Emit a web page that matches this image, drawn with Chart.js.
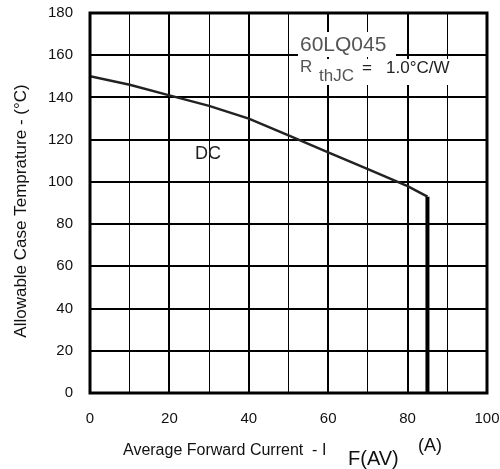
<!DOCTYPE html>
<html>
<head>
<meta charset="utf-8">
<script src="https://cdn.jsdelivr.net/npm/chart.js@4/dist/chart.umd.min.js"></script>
<style>
  html, body { margin: 0; padding: 0; background: #fff; }
  #wrap { width: 500px; height: 469px; }
</style>
</head>
<body>
<div id="wrap"><canvas id="derating"></canvas></div>
<script>
// data
const currentA = [0, 10, 20, 30, 40, 50, 60, 70, 80, 85, 85];
const caseTempC = [150, 146, 141, 136, 130, 122, 114, 106, 98, 93, 0];
const xTickLabels = ['0', '20', '40', '60', '80', '100'];
const yTickLabels = ['0', '20', '40', '60', '80', '100', '120', '140', '160', '180'];

const FONT = '"Liberation Sans", Arial, sans-serif';

const points = currentA.map((x, i) => ({ x: x, y: caseTempC[i] }));

// frame, part label and axis titles (with subscripts)
const decorations = {
  id: 'decorations',
  afterDatasetsDraw(chart) {
    const { ctx, chartArea: a } = chart;
    ctx.save();
    ctx.strokeStyle = '#000';
    ctx.lineWidth = 3;
    ctx.strokeRect(a.left, a.top, a.right - a.left, a.bottom - a.top);

    // part number box
    ctx.fillStyle = '#fff';
    ctx.fillRect(298, 32, 98, 25);
    ctx.fillRect(298, 59, 160, 26);
    ctx.fillStyle = '#555';
    ctx.textBaseline = 'middle';
    ctx.font = '21px ' + FONT;
    ctx.fillText('60LQ045', 300, 45);
    ctx.font = '17px ' + FONT;
    ctx.fillText('R', 300, 67);
    ctx.fillText('thJC', 319, 76);
    ctx.fillStyle = '#222';
    ctx.fillText('=', 362, 68);
    ctx.fillText('1.0°C/W', 386, 68);

    ctx.font = '18px ' + FONT;
    ctx.fillStyle = '#222';
    ctx.fillText('DC', 195, 154);

    // x title
    ctx.font = '16px ' + FONT;
    ctx.fillStyle = '#111';
    ctx.fillText('Average Forward Current  - I', 123, 451);
    ctx.font = '20px ' + FONT;
    ctx.fillText('F(AV)', 348, 459);
    ctx.font = '18px ' + FONT;
    ctx.fillText('(A)', 418, 446);

    // y title
    ctx.font = '17px ' + FONT;
    ctx.translate(21, 211);
    ctx.rotate(-Math.PI / 2);
    ctx.textAlign = 'center';
    ctx.fillText('Allowable Case Temprature - (°C)', 0, 0);
    ctx.restore();
  }
};

new Chart(document.getElementById('derating'), {
  type: 'scatter',
  data: {
    datasets: [
      {
        label: 'DC',
        data: points,
        showLine: true,
        borderColor: '#222',
        borderWidth: 2.5,
        pointRadius: 0,
        tension: 0,
        fill: false,
        segment: {
          borderWidth: (c) => (c.p0DataIndex === currentA.length - 2 ? 4 : 2.5),
          borderColor: (c) => (c.p0DataIndex === currentA.length - 2 ? '#000' : '#222'),
        },
      },
    ],
  },
  options: {
    responsive: true,
    maintainAspectRatio: false,
    animation: false,
    layout: { padding: { top: 13, right: 13, left: 0, bottom: 0 } },
    plugins: {
      legend: { display: false },
      tooltip: { enabled: false },
    },
    scales: {
      x: {
        type: 'linear',
        min: 0,
        max: 100,
        afterFit: (s) => {
          s.height = 76;
          s.paddingLeft = 0;
          s.paddingRight = 0;
        },
        ticks: {
          stepSize: 10,
          padding: 17,
          color: '#111',
          font: { family: FONT, size: 15 },
          callback: (v) => (v % 20 === 0 ? xTickLabels[v / 20] : ''),
        },
        grid: {
          color: '#000',
          drawTicks: false,
          lineWidth: (c) => (c.tick && c.tick.value % 20 === 0 ? 2 : 1),
        },
        border: { display: false },
      },
      y: {
        min: 0,
        max: 180,
        afterFit: (s) => {
          s.width = 90;
          s.paddingTop = 0;
          s.paddingBottom = 0;
        },
        ticks: {
          stepSize: 20,
          padding: 17,
          color: '#111',
          font: { family: FONT, size: 15 },
          callback: (v) => yTickLabels[v / 20],
        },
        grid: { color: '#000', drawTicks: false, lineWidth: 2 },
        border: { display: false },
      },
    },
  },
  plugins: [decorations],
});
</script>
</body>
</html>
